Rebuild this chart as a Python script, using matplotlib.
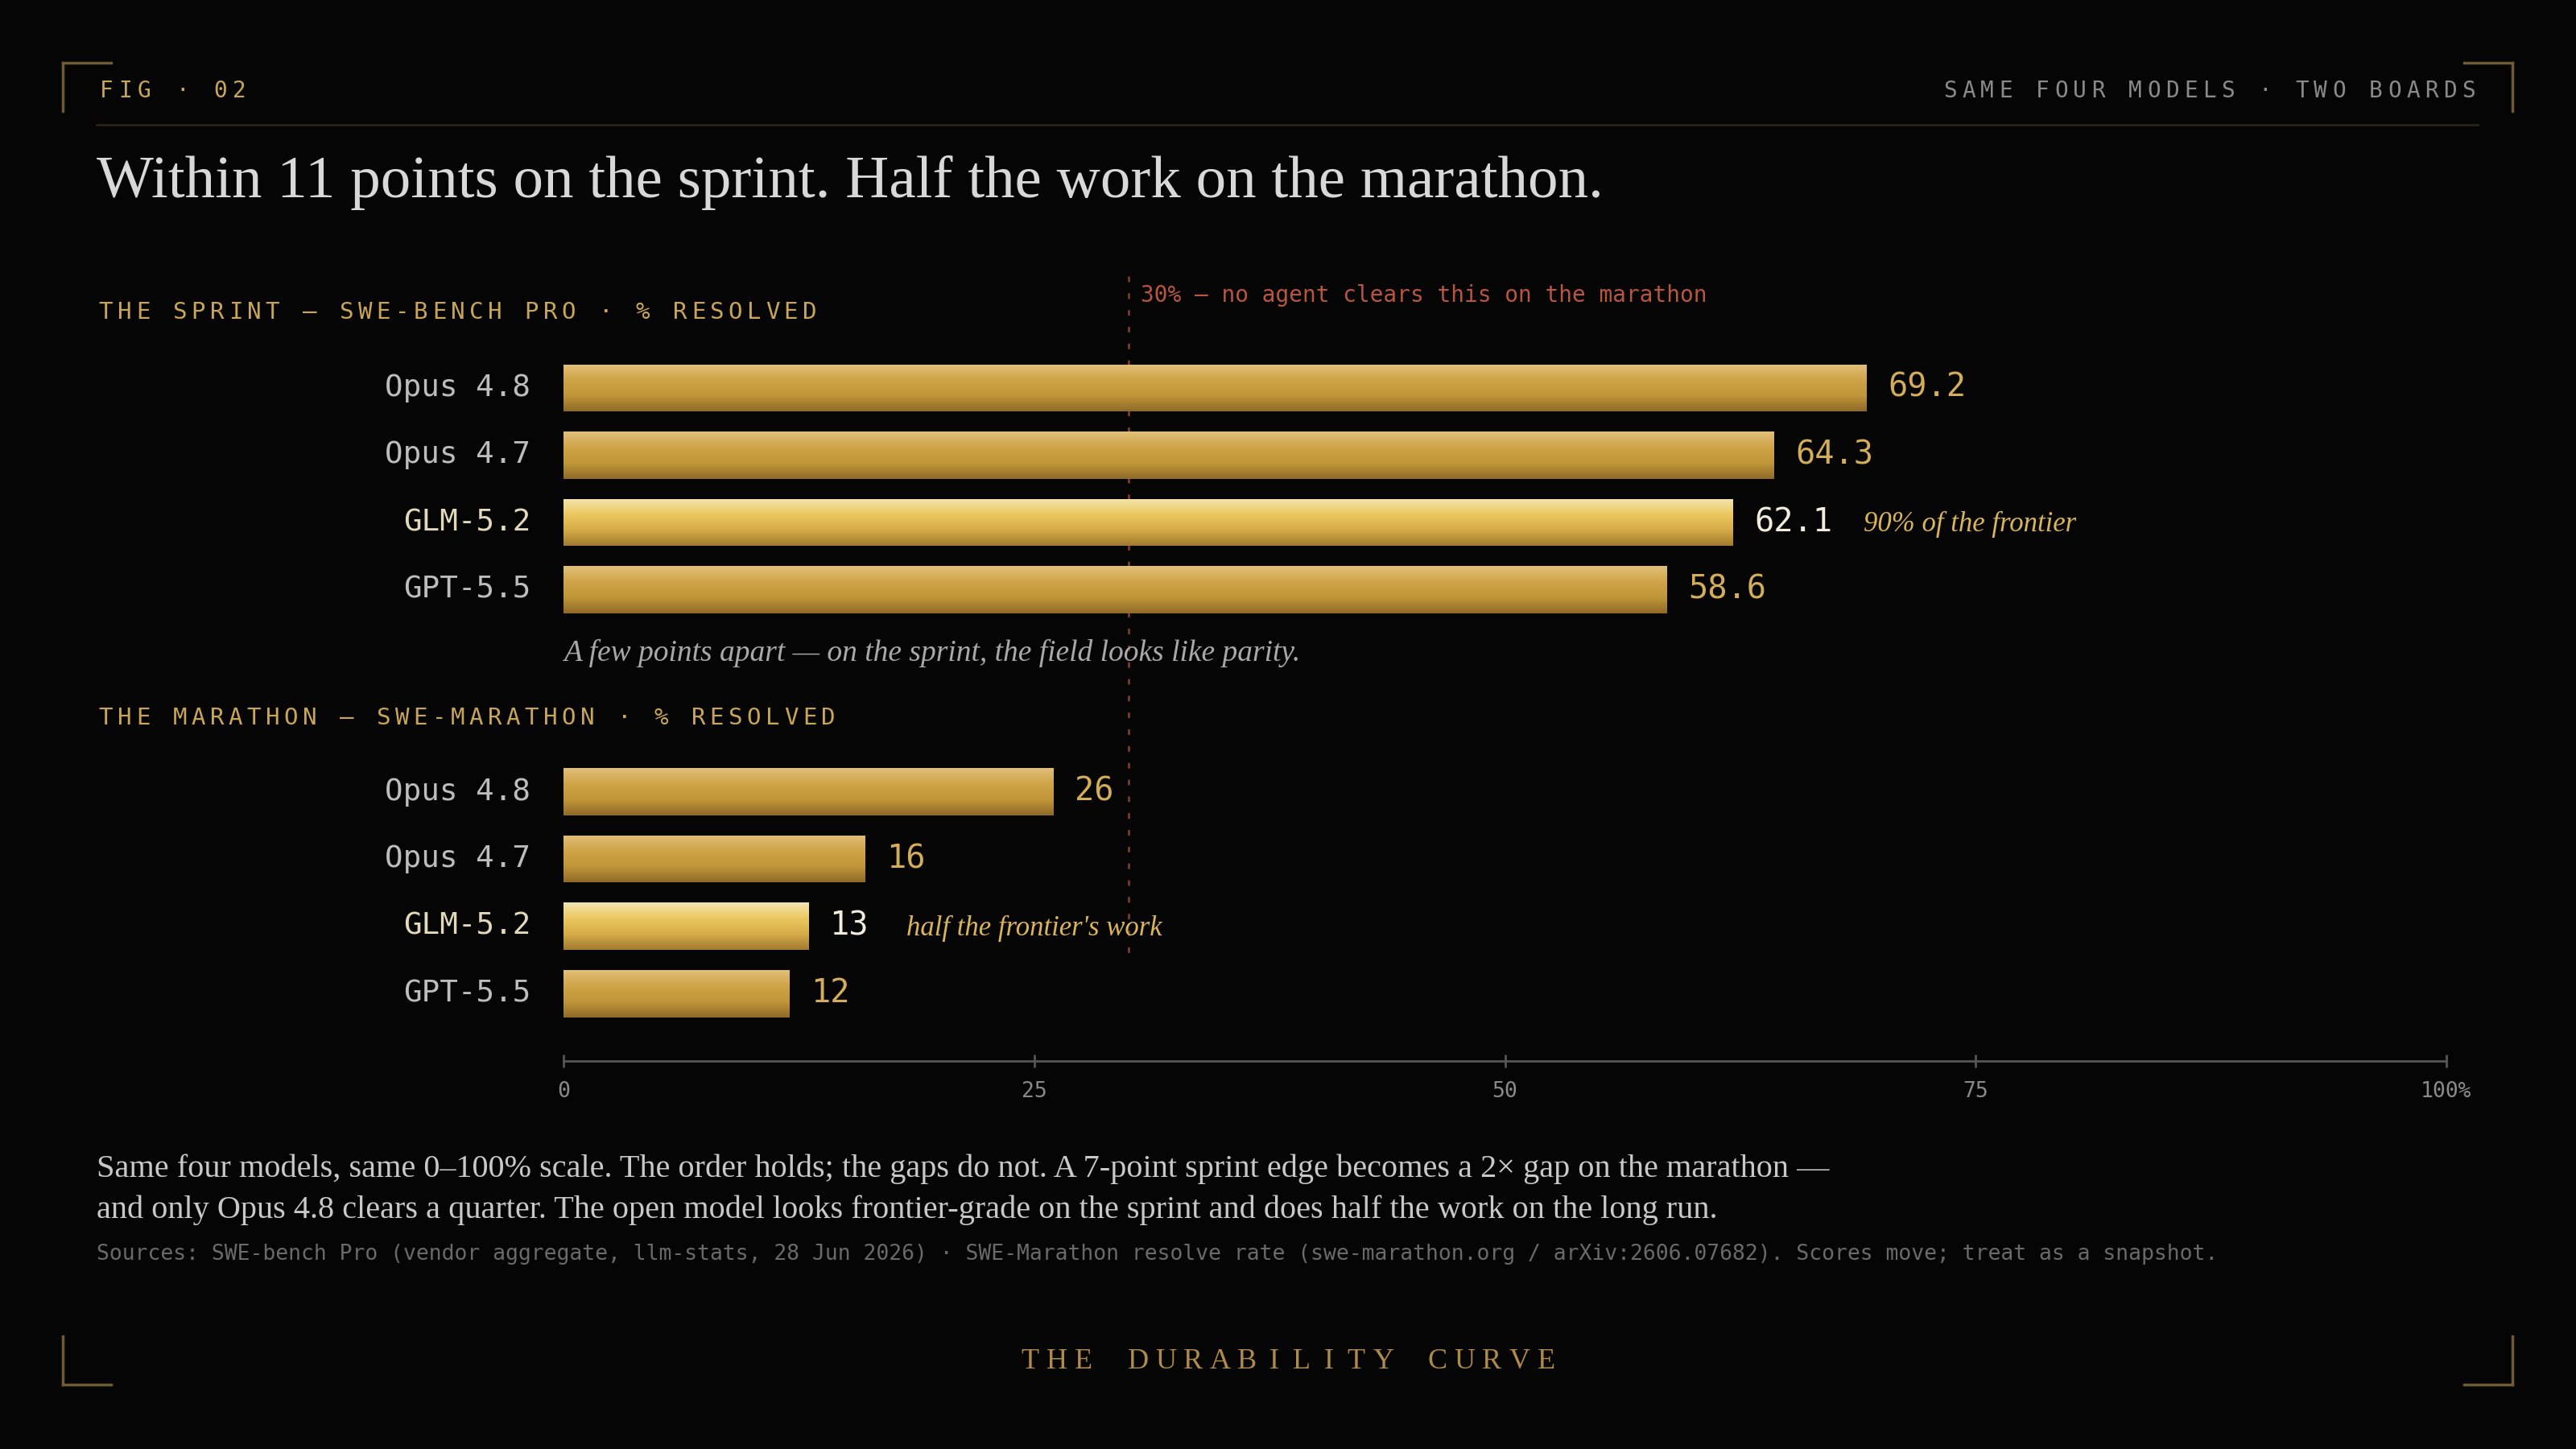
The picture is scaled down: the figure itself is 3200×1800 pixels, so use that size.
import numpy as np
import matplotlib
matplotlib.use("Agg")
import matplotlib.pyplot as plt
from matplotlib.colors import LinearSegmentedColormap

models = ["Opus 4.8", "Opus 4.7", "GLM-5.2", "GPT-5.5"]
sprint = [69.2, 64.3, 62.1, 58.6]
marathon = [26, 16, 13, 12]
sprint_labels = ["69.2", "64.3", "62.1", "58.6"]
marathon_labels = ["26", "16", "13", "12"]
xticks = [0, 25, 50, 75, 100]
xticklabels = ["0", "25", "50", "75", "100%"]
threshold = 30

W, H = 3200, 1800
BG = "#050505"
MONO = "DejaVu Sans Mono"
SERIF = "Liberation Serif"
GOLD = "#d4ad5a"
DIMGOLD = "#6e5a34"

fig = plt.figure(figsize=(32, 18), dpi=100, facecolor=BG)

def P(x, y):
    return x / W, 1 - y / H

def spaced(x, y, s, size, adv, color, family=MONO, align="left", va="center", **kw):
    n = len(s)
    if align == "right":
        x0 = x - n * adv
    elif align == "center":
        x0 = x - n * adv / 2
    else:
        x0 = x
    for i, ch in enumerate(s):
        if ch == " ":
            continue
        fig.text(*P(x0 + i * adv + adv / 2, y), ch, ha="center", va=va,
                 fontsize=size, color=color, family=family, **kw)

# frame brackets
bl = dict(color=DIMGOLD, lw=2.5, transform=fig.transFigure)
for (cx, cy, dx, dy) in [(78, 78, 1, 1), (3121, 78, -1, 1), (78, 1720, 1, -1), (3121, 1720, -1, -1)]:
    fig.add_artist(plt.Line2D([P(cx, 0)[0], P(cx + dx * 60, 0)[0]], [P(0, cy)[1]] * 2, **bl))
    fig.add_artist(plt.Line2D([P(cx, 0)[0]] * 2, [P(0, cy)[1], P(0, cy + dy * 60)[1]], **bl))

# header
spaced(120, 113, "FIG · 02", 20, 23.7, "#c9a55a")
spaced(3078, 113, "SAME FOUR MODELS · TWO BOARDS", 20, 23.0, "#8a8a8a", align="right")
fig.add_artist(plt.Line2D([P(120, 0)[0], P(3078, 0)[0]], [P(0, 155)[1]] * 2,
                          color="#2a2418", lw=2, transform=fig.transFigure))
fig.text(*P(120, 245), "Within 11 points on the sprint. Half the work on the marathon.",
         fontsize=54, color="#d8d8d8", family=SERIF, va="baseline")

# section headings
spaced(120, 388, "THE SPRINT — SWE-BENCH PRO · % RESOLVED", 21, 23.0, "#c9a55a")
spaced(120, 892, "THE MARATHON — SWE-MARATHON · % RESOLVED", 21, 23.0, "#c9a55a")

# data axes
left, right = 700, 3039
top, bottom = 343, 1318
ax = fig.add_axes([left / W, 1 - bottom / H, (right - left) / W, (bottom - top) / H])
ax.set_facecolor("none")

rows_s = np.arange(4)
rows_m = np.arange(4) + 6
bh = 0.70

normal = LinearSegmentedColormap.from_list("g", ["#e0c07a", "#d0a448", "#c09638", "#8e6a28"])
bright = LinearSegmentedColormap.from_list("b", ["#f4e6b0", "#ecc860", "#d6ac48", "#a07a30"])
grad = np.linspace(0, 1, 256).reshape(-1, 1)

def draw_bars(rows, vals, labels):
    bars = ax.barh(rows, vals, height=bh, color="none", edgecolor="none")
    for i, (b, r, v, lab) in enumerate(zip(bars, rows, vals, labels)):
        cm = bright if i == 2 else normal
        im = ax.imshow(grad, cmap=cm, aspect="auto", extent=(0, v, r + bh / 2, r - bh / 2),
                       interpolation="bicubic", zorder=2)
        im.set_clip_path(b)
        ax.annotate(lab, (v, r), xytext=(19, 0), textcoords="offset points", ha="left",
                    va="center", fontsize=29, family=MONO,
                    color="#f2ecdc" if i == 2 else GOLD, zorder=4)
        ax.annotate(models[i], (0, r), xytext=(-29.5, 0), textcoords="offset points", ha="right",
                    va="center", fontsize=27, family=MONO,
                    color="#e2d8ba" if i == 2 else "#bdbdbd", zorder=4)

draw_bars(rows_s, sprint, sprint_labels)
draw_bars(rows_m, marathon, marathon_labels)

ax.plot([threshold, threshold], [-1.66, 8.43], color="#7a3a2e", lw=2,
        linestyle=(0, (2.5, 5)), zorder=1)
ax.annotate("30% — no agent clears this on the marathon", (threshold, -1.37),
            xytext=(11, 0), textcoords="offset points", ha="left", va="center",
            fontsize=20, family=MONO, color="#b8563f")

ax.annotate("90% of the frontier", (sprint[2], rows_s[2]), xytext=(117, -2),
            textcoords="offset points", ha="left", va="center", fontsize=25,
            family=SERIF, style="italic", color="#d9b45a")
ax.annotate("half the frontier's work", (marathon[2], rows_m[2]), xytext=(88, -2),
            textcoords="offset points", ha="left", va="center", fontsize=25,
            family=SERIF, style="italic", color="#d9b45a")
ax.annotate("A few points apart — on the sprint, the field looks like parity.", (0, 3.94),
            ha="left", va="center", fontsize=27, family=SERIF, style="italic", color="#a8a8a8")

ax.set_xlim(0, 100)
ax.set_ylim(10, -1.66)
for s in ["top", "right", "left"]:
    ax.spines[s].set_visible(False)
ax.spines["bottom"].set_color("#555555")
ax.spines["bottom"].set_linewidth(2)
ax.set_yticks([])
ax.set_xticks(xticks)
ax.set_xticklabels(xticklabels, family=MONO, fontsize=19, color="#8a8a8a")
ax.tick_params(axis="x", direction="inout", length=12, width=2, color="#555555", pad=12)

# body text
fig.text(*P(120, 1462), "Same four models, same 0–100% scale. The order holds; the gaps do not. "
         "A 7-point sprint edge becomes a 2× gap on the marathon —",
         fontsize=29, family=SERIF, color="#c8c8c8", va="baseline")
fig.text(*P(120, 1513), "and only Opus 4.8 clears a quarter. The open model looks frontier-grade "
         "on the sprint and does half the work on the long run.",
         fontsize=29, family=SERIF, color="#c8c8c8", va="baseline")
fig.text(*P(120, 1558), "Sources: SWE-bench Pro (vendor aggregate, llm-stats, 28 Jun 2026) · "
         "SWE-Marathon resolve rate (swe-marathon.org / arXiv:2606.07682). Scores move; treat as a snapshot.",
         fontsize=19, family=MONO, color="#6a6a6a", va="center")

spaced(1600, 1691, "THE DURABILITY CURVE", 26, 33.8, "#b08a4a", family=SERIF, align="center")

fig.savefig("out.png", dpi=100, facecolor=BG)
